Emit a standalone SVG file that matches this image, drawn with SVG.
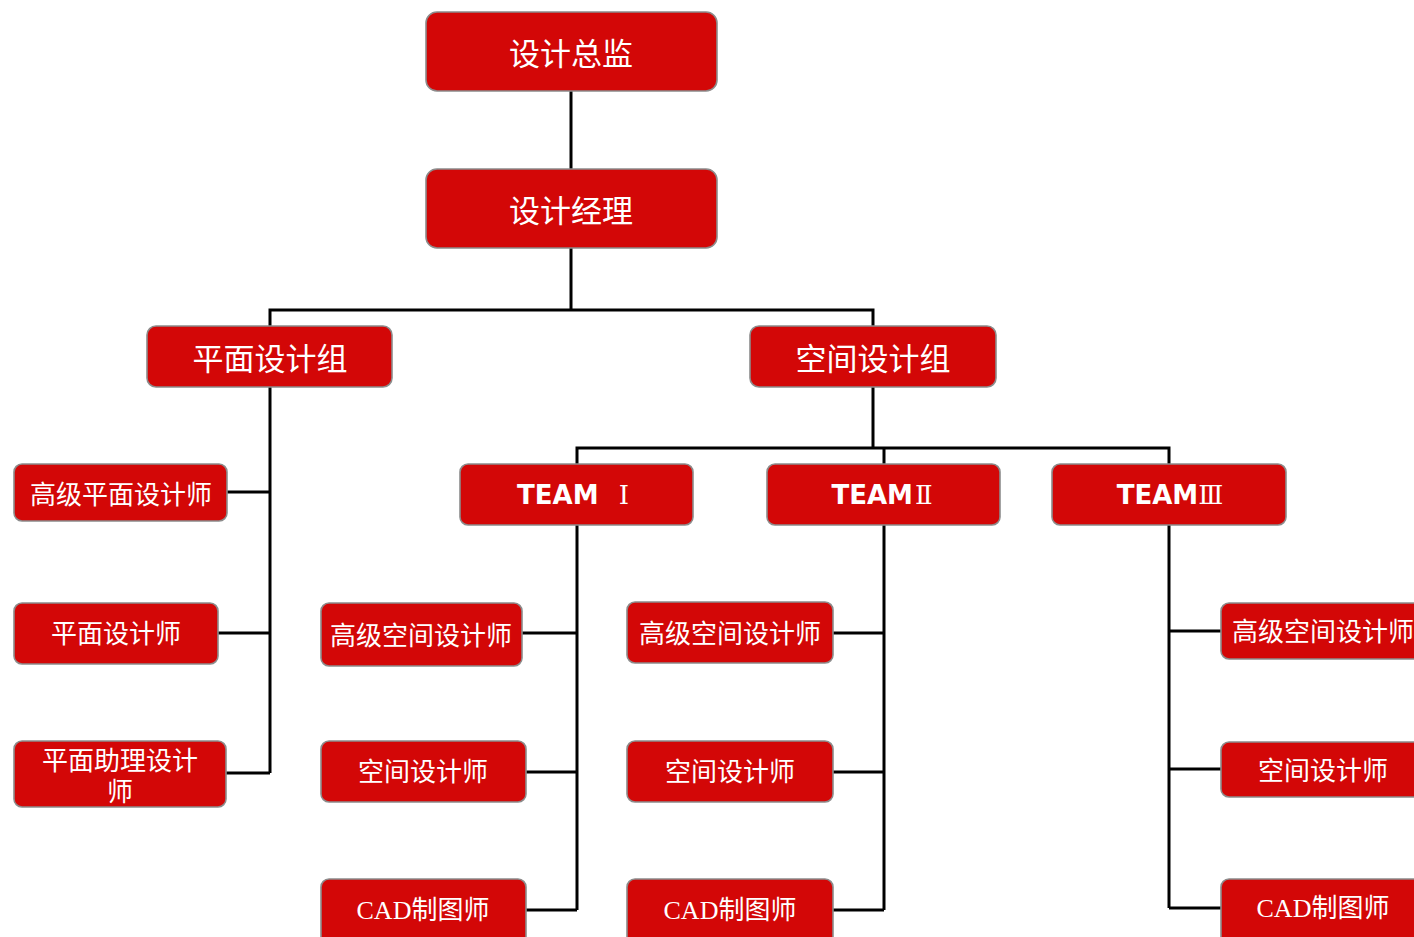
<svg xmlns="http://www.w3.org/2000/svg" width="1414" height="937" viewBox="0 0 1414 937">
<style>
.box{fill:#d30707;stroke:#8c8c8c;stroke-width:1.6}
.t{fill:#fff;font-family:"Noto Sans CJK SC","Liberation Sans",sans-serif;text-anchor:middle}
.big{font-size:31px}
.mid{font-size:31px}
.sm{font-size:26px}
.team{font-family:"DejaVu Sans","Noto Sans CJK SC",sans-serif;font-weight:bold;font-size:26px}
.rn{font-family:"DejaVu Serif","Noto Sans CJK SC",serif;font-weight:normal}
.cad{font-family:"Liberation Serif","Noto Sans CJK SC",serif}
.c{fill:none;stroke:#000;stroke-width:3}
</style>
<rect width="1414" height="937" fill="#fff"/>
<g id="connectors">
<path class="c" d="M571,91V169"/>
<path class="c" d="M571,248V310M270,326V310H873V326"/>
<path class="c" d="M270,387V773M227,492H270M218,633H270M226,773H270"/>
<path class="c" d="M873,387V448M577,464V448H1169V464M884,448V464"/>
<path class="c" d="M577,525V910M522,633H577M526,772H577M526,910H577"/>
<path class="c" d="M884,525V910M833,633H884M833,772H884M833,910H884"/>
<path class="c" d="M1169,525V908M1169,631H1221M1169,769H1221M1169,908H1221"/>
</g>
<g id="n_director"><rect class="box" x="426" y="12" width="291" height="79" rx="11"/><text class="t big" x="571" y="65">设计总监</text></g>
<g id="n_manager"><rect class="box" x="426" y="169" width="291" height="79" rx="11"/><text class="t big" x="571" y="222">设计经理</text></g>
<g id="n_graphic_group"><rect class="box" x="147" y="326" width="245" height="61" rx="9"/><text class="t mid" x="270" y="370">平面设计组</text></g>
<g id="n_space_group"><rect class="box" x="750" y="326" width="246" height="61" rx="9"/><text class="t mid" x="873" y="370">空间设计组</text></g>
<g id="n_g_senior"><rect class="box" x="14" y="464" width="213" height="57" rx="8"/><text class="t sm" x="121" y="504">高级平面设计师</text></g>
<g id="n_g_designer"><rect class="box" x="14" y="603" width="204" height="61" rx="8"/><text class="t sm" x="116" y="643">平面设计师</text></g>
<g id="n_g_assistant"><rect class="box" x="14" y="741" width="212" height="66" rx="8"/><text class="t sm" x="120" y="770">平面助理设计<tspan x="120" dy="31">师</tspan></text></g>
<g id="n_team1"><rect class="box" x="460" y="464" width="233" height="61" rx="8"/><text class="t team" x="573" y="504">TEAM <tspan class="rn" dx="11">Ⅰ</tspan></text></g>
<g id="n_team2"><rect class="box" x="767" y="464" width="233" height="61" rx="8"/><text class="t team" x="882" y="504">TEAM<tspan class="rn" dx="2">Ⅱ</tspan></text></g>
<g id="n_team3"><rect class="box" x="1052" y="464" width="234" height="61" rx="8"/><text class="t team" x="1170" y="504">TEAM<tspan class="rn">Ⅲ</tspan></text></g>
<g id="n_t1_senior"><rect class="box" x="321" y="603" width="201" height="63" rx="8"/><text class="t sm" x="421" y="645">高级空间设计师</text></g>
<g id="n_t1_designer"><rect class="box" x="321" y="741" width="205" height="61" rx="8"/><text class="t sm" x="423" y="781">空间设计师</text></g>
<g id="n_t1_cad"><rect class="box" x="321" y="879" width="205" height="70" rx="8"/><text class="t sm" x="423" y="919"><tspan class="cad">CAD</tspan>制图师</text></g>
<g id="n_t2_senior"><rect class="box" x="627" y="602" width="206" height="61" rx="8"/><text class="t sm" x="730" y="643">高级空间设计师</text></g>
<g id="n_t2_designer"><rect class="box" x="627" y="741" width="206" height="61" rx="8"/><text class="t sm" x="730" y="781">空间设计师</text></g>
<g id="n_t2_cad"><rect class="box" x="627" y="879" width="206" height="70" rx="8"/><text class="t sm" x="730" y="919"><tspan class="cad">CAD</tspan>制图师</text></g>
<g id="n_t3_senior"><rect class="box" x="1221" y="603" width="205" height="56" rx="8"/><text class="t sm" x="1323" y="641">高级空间设计师</text></g>
<g id="n_t3_designer"><rect class="box" x="1221" y="742" width="205" height="55" rx="8"/><text class="t sm" x="1323" y="780">空间设计师</text></g>
<g id="n_t3_cad"><rect class="box" x="1221" y="879" width="205" height="70" rx="8"/><text class="t sm" x="1323" y="917"><tspan class="cad">CAD</tspan>制图师</text></g>
</svg>
